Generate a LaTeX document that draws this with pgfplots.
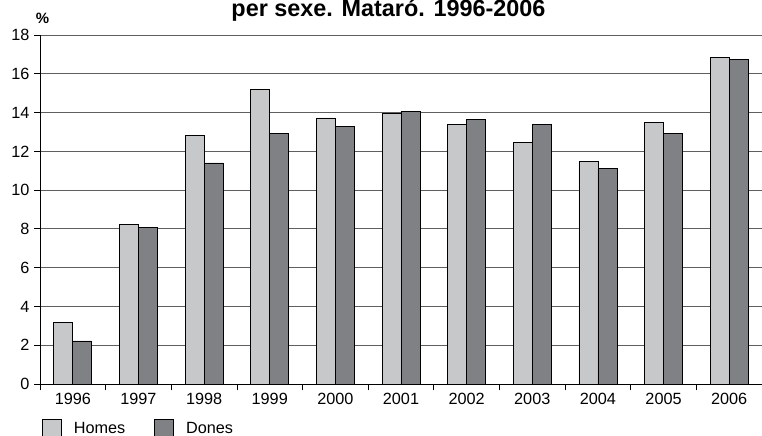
\documentclass[border=0pt]{standalone}
\usepackage{pgfplots}
\pgfplotsset{compat=1.18}
\usepackage{fontspec}
\setmainfont{Liberation Sans}
\definecolor{homes}{RGB}{199,200,202}
\definecolor{dones}{RGB}{128,129,133}
\definecolor{gridc}{RGB}{95,95,95}
\begin{document}
\begin{tikzpicture}
\path[use as bounding box, clip] (-40bp,-52bp) rectangle (722bp,384bp);
\begin{axis}[
  at={(0,0)}, anchor=south west,
  scale only axis, width=722bp, height=349bp,
  ybar=0pt, bar width=19bp,
  xmin=-0.5, xmax=10.5, ymin=0, ymax=18,
  axis x line*=bottom, axis y line*=left,
  axis line style={black, line width=0.8bp},
  xtick={0,...,10},
  xticklabels={1996,1997,1998,1999,2000,2001,2002,2003,2004,2005,2006},
  major x tick style={draw=none},
  minor xtick={-0.5,0.5,...,10.5},
  minor x tick style={black, line width=0.8bp},
  minor tick length=6bp,
  ytick={0,2,...,18},
  y tick style={black, line width=0.8bp},
  major tick length=6bp,
  tick align=outside,
  ymajorgrids, grid style={gridc, line width=0.9bp},
  tick label style={font=\fontsize{16.3}{19}\selectfont},
  /pgf/number format/assume math mode=true,
  yticklabel style={xshift=-1bp},
  xticklabel style={yshift=0bp},
  legend style={at={(0,0)}, anchor=north west, xshift=2bp, yshift=-35bp,
    draw=none, fill=none, inner sep=0pt, outer sep=0pt,
    legend columns=2, font=\fontsize{16.3}{19}\selectfont,
    nodes={inner sep=0pt},
    /tikz/every odd column/.append style={column sep=12bp},
    /tikz/every even column/.append style={column sep=29bp}},
  legend image code/.code={\draw[#1, line width=0.8bp] (0bp,-9.5bp) rectangle (19bp,9.5bp);},
]
\addplot[fill=homes, draw=black, line width=0.8bp] coordinates {
(0,3.16) (1,8.22) (2,12.8) (3,15.2) (4,13.72) (5,13.96) (6,13.39) (7,12.48) (8,11.47) (9,13.51) (10,16.83)};
\addplot[fill=dones, draw=black, line width=0.8bp] coordinates {
(0,2.22) (1,8.06) (2,11.4) (3,12.93) (4,13.27) (5,14.04) (6,13.65) (7,13.39) (8,11.1) (9,12.94) (10,16.76)};
\legend{Homes,Dones}
\end{axis}
\node[font=\fontsize{23.5}{26}\selectfont\bfseries, anchor=base] at (348.5bp,367bp) {per sexe. Mataró. 1996-2006};
\node[font=\fontsize{15}{17}\selectfont\bfseries] at (2.5bp,365.5bp) {\%};
\end{tikzpicture}
\end{document}
